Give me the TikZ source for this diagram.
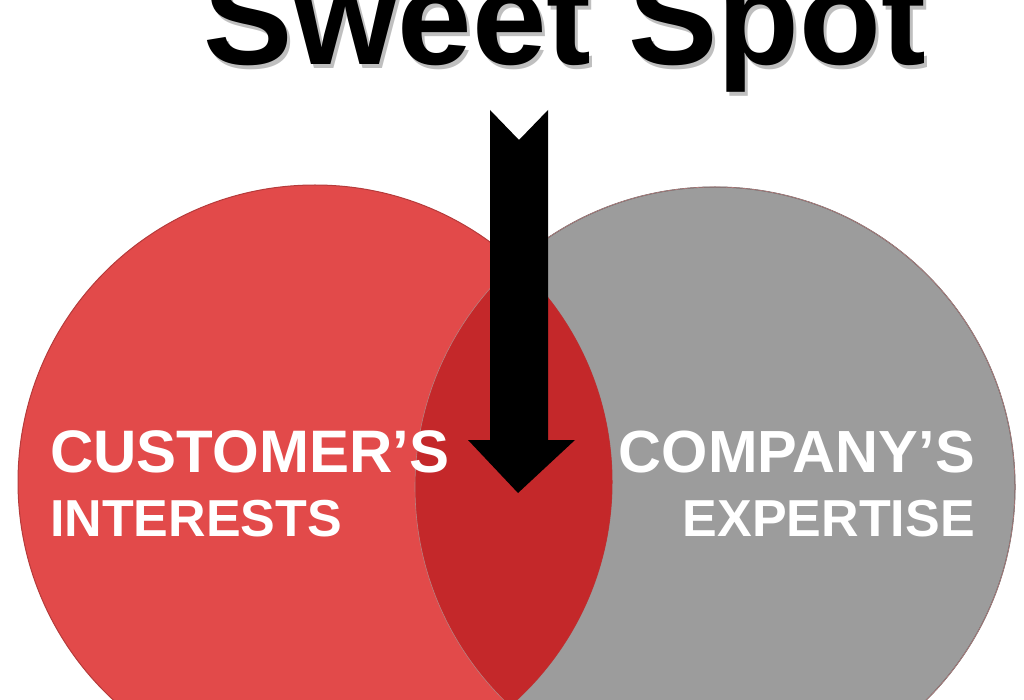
\documentclass[tikz,border=0pt]{standalone}
\usepackage{fontspec}
\setmainfont{Liberation Sans}
\definecolor{cred}{HTML}{E24A4A}
\definecolor{cgray}{HTML}{9C9C9C}
\definecolor{cover}{HTML}{C4282A}
\begin{document}
\begin{tikzpicture}[x=1pt,y=1pt,
  lbl/.style={text=white,inner sep=0pt}]
\useasboundingbox (0,0) rectangle (1024,-700);
\clip (0,0) rectangle (1024,-700);
\fill[cgray,draw=gray!70!black,line width=1pt] (715,-487) circle (300);
\fill[cred,draw=cred!80!black,line width=1pt] (315,-482) circle (297);
\begin{scope}
\clip (715,-487) circle (300);
\fill[cover] (315,-482) circle (297);
\end{scope}
\draw[cred!60!black!60,line width=0.6pt] (715,-487) circle (300);
\node[font=\bfseries\fontsize{134}{134}\selectfont,anchor=base,text=gray!50] (shadow) at (568,-69) {Sweet Spot};
\node[font=\bfseries\fontsize{134}{134}\selectfont,anchor=base] (title) at (565,-65) {Sweet Spot};
\fill[black] (490,-110) -- (519,-140) -- (548,-110) -- (548,-440) -- (575,-440) -- (518,-493) -- (468,-440) -- (490,-440) -- cycle;
\node[lbl,font=\bfseries\fontsize{60}{60}\selectfont,anchor=base west] (c1) at (50,-472) {CUSTOMER’S};
\node[lbl,font=\bfseries\fontsize{52}{52}\selectfont,anchor=base west] (c2) at (50,-536) {INTERESTS};
\node[lbl,font=\bfseries\fontsize{59.5}{60}\selectfont,anchor=base east] (p1) at (975,-472) {COMPANY’S};
\node[lbl,font=\bfseries\fontsize{52}{52}\selectfont,anchor=base east] (p2) at (975,-536) {EXPERTISE};
\end{tikzpicture}
\end{document}
